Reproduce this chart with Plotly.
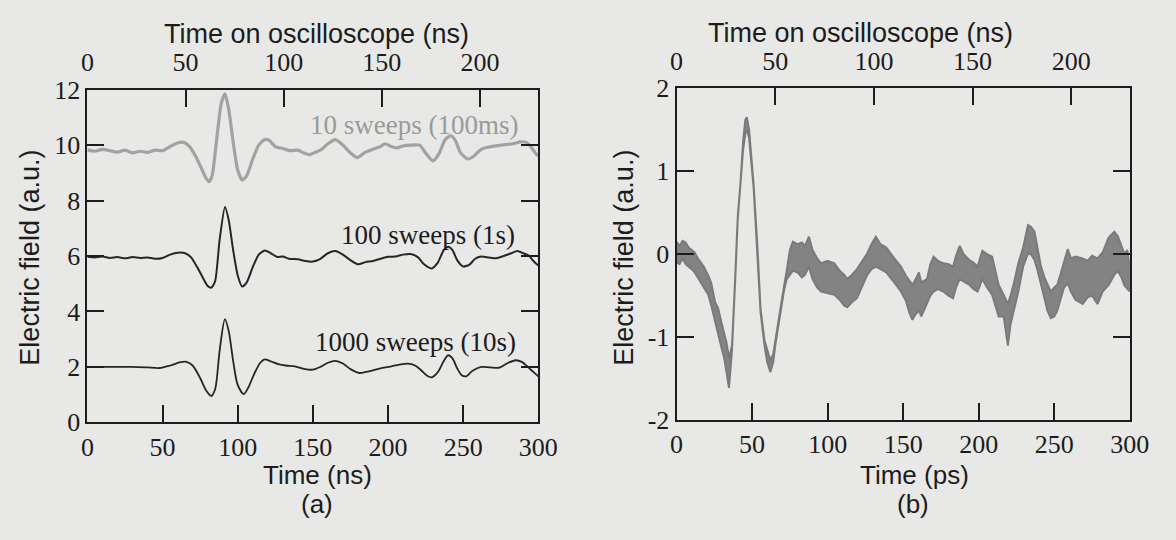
import plotly.graph_objects as go

W, H = 1176, 540

# ---------------- data: panel (a) ----------------
t10 = [0, 5, 10, 15, 20, 25, 30, 35, 40, 45, 50, 55, 60, 64, 68, 72, 76, 79, 81, 83, 86, 89, 91.5, 94, 97,
       100, 103, 106, 110, 114, 118, 121, 125, 130, 135, 140, 144, 148, 152, 156, 160, 165, 170, 175, 179.5,
       185, 190, 195, 198, 202, 206, 210, 215, 221, 225, 230, 234, 238, 242, 245, 248, 253, 257, 262, 268,
       273, 278, 283, 288, 292, 295, 298, 300]
v10 = [9.83, 9.78, 9.85, 9.80, 9.75, 9.82, 9.72, 9.78, 9.74, 9.82, 9.80, 9.95, 10.08, 10.10, 9.95, 9.60,
       9.15, 8.80, 8.68, 8.90, 10.20, 11.50, 11.85, 11.30, 10.10, 9.10, 8.74, 8.90, 9.50, 10.00, 10.20,
       10.17, 9.95, 9.88, 9.80, 9.82, 9.72, 9.66, 9.75, 9.85, 10.05, 10.20, 10.00, 9.72, 9.55, 9.75, 9.85,
       9.95, 10.05, 9.95, 9.90, 9.97, 10.00, 10.00, 9.72, 9.43, 9.70, 10.20, 10.34, 10.15, 9.75, 9.50, 9.60,
       9.85, 9.94, 9.98, 10.02, 10.05, 10.12, 10.10, 9.95, 9.72, 9.60]

t100 = [0, 5, 10, 15, 20, 25, 30, 35, 40, 45, 50, 55, 60, 65, 69, 73, 77, 80, 82.5, 85, 88, 91.5, 94, 97,
        100, 103, 106, 110, 114, 118, 122, 126, 130, 134, 140, 145, 150, 155, 160, 165, 170, 175, 180, 185,
        190, 195, 200, 205, 210, 215, 220, 224, 229, 233, 237, 240, 243, 246, 250, 254, 258, 262, 267, 272,
        277, 282, 286, 290, 294, 297, 300]
v100 = [5.97, 5.95, 5.98, 5.93, 5.96, 5.92, 5.96, 5.93, 5.95, 5.90, 5.93, 6.05, 6.12, 6.10, 5.95, 5.60,
        5.20, 4.92, 4.86, 5.10, 6.60, 7.77, 7.30, 6.20, 5.30, 4.90, 5.05, 5.60, 6.05, 6.20, 6.10, 5.97, 5.98,
        5.90, 5.88, 5.82, 5.80, 5.90, 6.10, 6.18, 6.05, 5.85, 5.70, 5.78, 5.82, 5.90, 5.97, 5.98, 6.05, 6.07,
        5.95, 5.70, 5.55, 5.75, 6.20, 6.33, 6.20, 5.85, 5.62, 5.68, 5.90, 5.98, 5.95, 5.92, 6.00, 6.10, 6.18,
        6.10, 6.00, 5.80, 5.66]

t1000 = [0, 10, 20, 30, 40, 48, 55, 62, 66, 70, 75, 79, 82.5, 85, 88, 91.5, 94, 97, 100, 104, 107, 111,
         115, 118, 122, 127, 132, 138, 144, 150, 155, 160, 165, 170, 175, 181, 188, 195, 200, 207, 213, 218,
         222, 226, 229, 233, 237, 240, 243, 246, 249, 252, 256, 262, 268, 274, 280, 285, 289, 293, 297, 300]
v1000 = [2.00, 2.00, 2.00, 2.00, 1.98, 1.96, 2.05, 2.17, 2.18, 2.05, 1.60, 1.15, 0.95, 1.20, 2.60, 3.72,
         3.30, 2.20, 1.35, 1.02, 1.25, 1.75, 2.15, 2.27, 2.20, 2.10, 2.05, 2.02, 1.93, 1.90, 2.00, 2.15, 2.22,
         2.12, 1.92, 1.78, 1.85, 1.95, 2.00, 2.07, 2.12, 2.05, 1.88, 1.68, 1.62, 1.80, 2.20, 2.42, 2.30, 1.95,
         1.70, 1.66, 1.85, 2.00, 1.98, 1.97, 2.15, 2.24, 2.18, 2.00, 1.80, 1.66]

labels_a = ["10 sweeps (100ms)", "100 sweeps (1s)", "1000 sweeps (10s)"]

# ---------------- data: panel (b) (upper / lower edge of the noisy trace) ----------------
tb = [0, 2, 4, 6, 8, 10, 12, 14, 16, 18, 21, 23, 25.5, 27.5, 29.8, 31.5, 33, 34.7, 36.7, 38.8, 40.5, 42.3,
      44, 45.5, 46.5, 48, 50, 51, 53.5, 55.6, 58.2, 60, 62.1, 64, 65.3, 68.6, 71, 72.9, 75, 77, 80, 83, 85,
      87.6, 90, 93, 95.7, 100, 104.4, 108, 111, 113, 116, 119.4, 123, 125.9, 129, 131.9, 135, 138.8, 142,
      145.3, 148.5, 151.8, 154, 156.1, 158.3, 160.4, 162, 165.8, 168, 170.1, 173, 176.6, 180, 183, 185,
      187.4, 190, 193.8, 196.5, 199.2, 202.4, 205.5, 208.9, 211, 213.2, 216.5, 219.3, 221, 223, 226.2,
      229.4, 232.6, 234.5, 236.9, 239, 241.2, 243.5, 245.5, 247.7, 250, 252, 254, 256.3, 258.9, 261, 264,
      268.8, 272, 275, 278.6, 282, 286, 289.7, 292, 294.5, 296.5, 298.3, 300]
ub = [0.15, 0.10, 0.16, 0.14, 0.08, 0.05, 0.02, -0.05, -0.10, -0.15, -0.26, -0.35, -0.58, -0.65, -0.83,
      -0.95, -1.06, -1.25, -1.10, -0.28, 0.46, 0.86, 1.35, 1.62, 1.65, 1.50, 1.05, 0.84, 0.10, -0.66, -1.04,
      -1.15, -1.28, -1.20, -1.04, -0.66, -0.40, -0.20, 0.05, 0.15, 0.12, 0.14, 0.10, 0.21, 0.05, -0.05,
      -0.11, -0.08, -0.11, -0.20, -0.25, -0.30, -0.25, -0.18, -0.08, 0.00, 0.12, 0.21, 0.12, 0.08, 0.00,
      -0.07, -0.15, -0.26, -0.32, -0.37, -0.30, -0.22, -0.34, -0.30, -0.12, -0.03, -0.08, -0.11, -0.12,
      -0.15, -0.02, 0.10, 0.00, -0.07, -0.10, -0.15, 0.04, 0.00, -0.03, -0.20, -0.37, -0.49, -0.60, -0.50,
      -0.37, -0.11, 0.08, 0.35, 0.33, 0.27, 0.05, -0.15, -0.28, -0.37, -0.45, -0.40, -0.37, -0.25, -0.11,
      0.06, -0.05, -0.03, -0.05, -0.08, -0.02, -0.05, 0.02, 0.20, 0.27, 0.22, 0.10, 0.00, 0.05, -0.15]
lb = [-0.10, -0.12, -0.05, -0.12, -0.15, -0.18, -0.22, -0.28, -0.35, -0.40, -0.49, -0.62, -0.79, -0.95,
      -1.13, -1.25, -1.40, -1.61, -1.15, -0.32, 0.42, 0.82, 1.25, 1.45, 1.50, 1.40, 1.00, 0.80, 0.06, -0.70,
      -1.10, -1.30, -1.42, -1.30, -1.10, -0.72, -0.45, -0.30, -0.25, -0.20, -0.22, -0.28, -0.25, -0.15,
      -0.30, -0.40, -0.45, -0.47, -0.49, -0.55, -0.62, -0.64, -0.58, -0.53, -0.38, -0.26, -0.18, -0.15,
      -0.18, -0.22, -0.30, -0.37, -0.45, -0.56, -0.70, -0.79, -0.72, -0.68, -0.75, -0.60, -0.50, -0.45,
      -0.42, -0.45, -0.50, -0.53, -0.40, -0.30, -0.33, -0.37, -0.42, -0.45, -0.30, -0.40, -0.49, -0.60,
      -0.75, -0.75, -1.10, -0.85, -0.68, -0.45, -0.15, 0.01, 0.00, -0.07, -0.20, -0.34, -0.52, -0.68, -0.77,
      -0.75, -0.68, -0.55, -0.41, -0.35, -0.45, -0.55, -0.60, -0.52, -0.50, -0.60, -0.45, -0.37, -0.25,
      -0.20, -0.28, -0.38, -0.41, -0.45]

bottom_ticks = [0, 50, 100, 150, 200, 250, 300]
top_ticks = [0, 50, 100, 150, 200]
top_range = [0, 229.7]
ya_ticks = [0, 2, 4, 6, 8, 10, 12]
yb_ticks = [-2, -1, 0, 1, 2]
yb_text = ["-2", "-1", "0", "1", "2"]

# ---------------- styling ----------------
BG = "#e8e8e6"
INK = "#1c1c1c"
SERIF = "Liberation Serif"
SANS = "Liberation Sans"


def px(x):
    return x / W


def py(y):
    return 1 - y / H


fig = go.Figure()

fig.add_trace(go.Scatter(x=t10, y=v10, mode="lines", xaxis="x", yaxis="y",
                         line=dict(color="#a2a2a2", width=3.2, shape="spline", smoothing=0.6),
                         showlegend=False, hoverinfo="skip"))
fig.add_trace(go.Scatter(x=t100, y=v100, mode="lines", xaxis="x", yaxis="y",
                         line=dict(color="#262626", width=2, shape="spline", smoothing=0.6),
                         showlegend=False, hoverinfo="skip"))
fig.add_trace(go.Scatter(x=t1000, y=v1000, mode="lines", xaxis="x", yaxis="y",
                         line=dict(color="#262626", width=1.8, shape="spline", smoothing=0.8),
                         showlegend=False, hoverinfo="skip"))

fig.add_trace(go.Scatter(x=tb + tb[::-1], y=ub + lb[::-1], mode="lines", xaxis="x2", yaxis="y2",
                         fill="toself", fillcolor="#838383",
                         line=dict(color="#7a7a7a", width=2),
                         showlegend=False, hoverinfo="skip"))

# empty traces so that the top (oscilloscope-time) axes are drawn
fig.add_trace(go.Scatter(x=top_ticks, y=[None] * len(top_ticks), mode="markers", xaxis="x3", yaxis="y",
                         marker=dict(opacity=0), showlegend=False, hoverinfo="skip"))
fig.add_trace(go.Scatter(x=top_ticks, y=[None] * len(top_ticks), mode="markers", xaxis="x4", yaxis="y2",
                         marker=dict(opacity=0), showlegend=False, hoverinfo="skip"))

dom_a = [px(82.3), px(543.8)]
dom_b = [px(685.3), px(1149.2)]
dom_ya = [py(431.5), py(80)]
dom_yb = [py(429.3), py(78.3)]

axis_common = dict(showgrid=False, zeroline=False, showline=True, linecolor=INK, linewidth=2,
                   ticks="inside", ticklen=17, tickwidth=2, tickcolor=INK,
                   tickfont=dict(family=SERIF, size=26, color=INK))

fig.update_layout(
    width=W, height=H,
    margin=dict(l=0, r=0, t=0, b=0),
    paper_bgcolor=BG, plot_bgcolor=BG,
    xaxis=dict(domain=dom_a, range=[0, 300], tickvals=bottom_ticks, anchor="y", **axis_common),
    yaxis=dict(domain=dom_ya, range=[0, 12], tickvals=ya_ticks, anchor="x", mirror="ticks", **axis_common),
    xaxis3=dict(overlaying="x", side="top", anchor="y", range=top_range, tickvals=top_ticks,
                ticklabelstandoff=6, **axis_common),
    xaxis2=dict(domain=dom_b, range=[0, 300], tickvals=bottom_ticks, anchor="y2", **axis_common),
    yaxis2=dict(domain=dom_yb, range=[-2, 2], tickvals=yb_ticks, ticktext=yb_text, anchor="x2",
                mirror="ticks", **axis_common),
    xaxis4=dict(overlaying="x2", side="top", anchor="y2", range=top_range, tickvals=top_ticks,
                ticklabelstandoff=6, **axis_common),
)

ann = []


def add_text(text, x, y, size=27, family=SANS, color=INK, angle=0, xanchor="center"):
    ann.append(dict(text=text, x=px(x), y=py(y), xref="paper", yref="paper", showarrow=False,
                    xanchor=xanchor, yanchor="middle", textangle=angle,
                    font=dict(family=family, size=size, color=color)))


add_text("Time on oscilloscope (ns)", 317, 21)
add_text("Time on oscilloscope (ns)", 874, 20)
add_text("Time (ns)", 317.6, 487, size=26)
add_text("Time (ps)", 929, 487, size=26)
add_text("(a)", 317, 518, size=26)
add_text("(b)", 927, 518, size=26)
add_text("Electric field (a.u.)", 24, 257, angle=-90)
add_text("Electric field (a.u.)", 632, 257, angle=-90)

label_pos = [(525, 117, "#9a9a9a"), (522, 234, INK), (523.5, 347, INK)]
for lab, (lx, ly, c) in zip(labels_a, label_pos):
    add_text(lab, lx, ly, size=27, family=SERIF, color=c, xanchor="right")

fig.update_layout(annotations=ann)

fig.write_html("out.html", config={"displayModeBar": False},
               post_script="document.body.style.margin='0';document.body.style.overflow='hidden';")
